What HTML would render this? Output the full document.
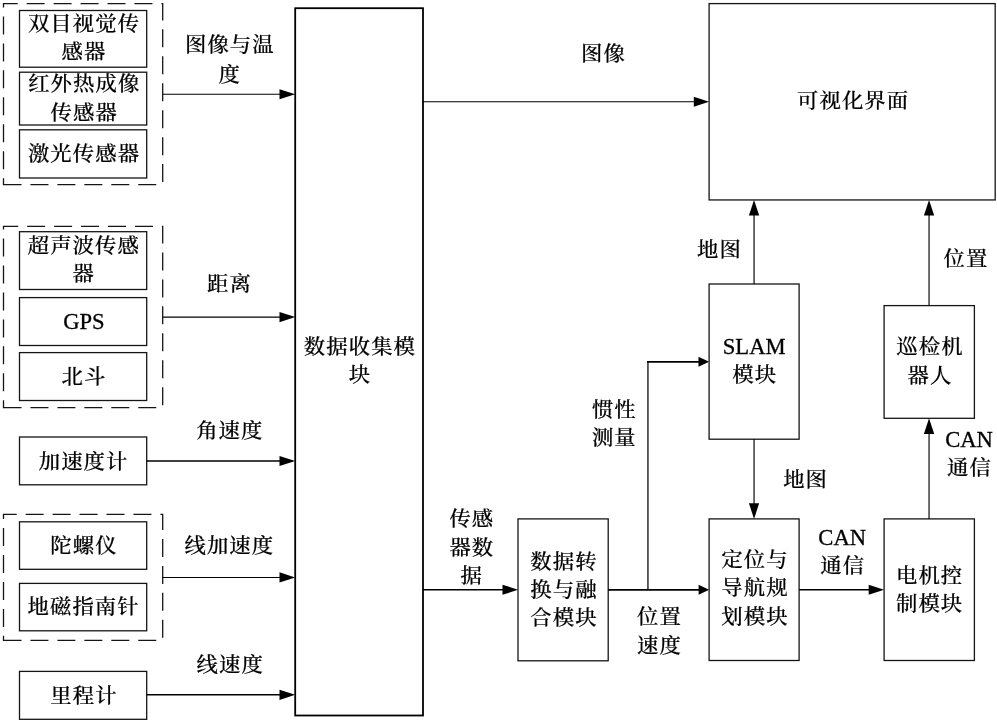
<!DOCTYPE html>
<html lang="zh-CN">
<head>
<meta charset="utf-8">
<title>系统框图</title>
<style>
html,body{margin:0;padding:0;background:#fff;}
body{width:997px;height:722px;overflow:hidden;}
svg{display:block;will-change:transform;}
.box{fill:#fff;stroke:#151515;stroke-width:1.3;}
.grp{fill:none;stroke:#151515;stroke-width:1.3;stroke-dasharray:18 8.95;}
.ln{fill:none;stroke:#000;}
.hd{fill:#000;stroke:none;}
text{font-family:"Liberation Serif", "Noto Serif CJK SC", serif;font-size:21.4px;font-weight:500;fill:#000;stroke:#000;stroke-width:0.2;text-anchor:middle;letter-spacing:1.05px;}
.en{font-size:22.6px;font-weight:400;letter-spacing:0;stroke-width:0.3;}
</style>
</head>
<body>
<svg width="997" height="722" viewBox="0 0 997 722">
<rect x="0" y="0" width="997" height="722" fill="#fff"/>
<g>
<path class="grp" d="M3.5,184.6H162.7V3.7H3.5Z"/>
<path class="grp" d="M3.5,407.7H162.7V226.3H3.5Z"/>
<path class="grp" d="M3.5,640.3H162.7V514.3H3.5Z"/>
</g>
<g>
<rect class="box" x="19.5" y="10.5" width="127.2" height="56.7"/>
<rect class="box" x="19.5" y="72.2" width="127.2" height="52.8"/>
<rect class="box" x="19.5" y="129.8" width="127.2" height="48.2"/>
<rect class="box" x="19.5" y="231.7" width="127.2" height="57.8"/>
<rect class="box" x="19.5" y="297.6" width="127.2" height="47.9"/>
<rect class="box" x="19.5" y="352.6" width="127.2" height="47.9"/>
<rect class="box" x="19.5" y="437" width="127.2" height="47.8"/>
<rect class="box" x="19.5" y="521.8" width="127.2" height="47.5"/>
<rect class="box" x="19.5" y="583.4" width="127.2" height="47.4"/>
<rect class="box" x="19.5" y="671.4" width="127.2" height="47.9"/>
<rect class="box" x="295.2" y="8.2" width="127.8" height="707.3" style="stroke-width:1.8;stroke:#000"/>
<rect class="box" x="709.1" y="3.6" width="286.1" height="196.35"/>
<rect class="box" x="709.1" y="284" width="90" height="155.2"/>
<rect class="box" x="709.1" y="518.9" width="90" height="141.6"/>
<rect class="box" x="518" y="518.9" width="90.2" height="141.9"/>
<rect class="box" x="884.1" y="518.9" width="90.3" height="141.6"/>
<rect class="box" x="884.1" y="305.6" width="90.3" height="112.7"/>
</g>
<g>
<polyline class="ln" stroke-width="1.25" points="647.95,589.85 647.95,361"/>
<polyline class="ln" stroke-width="1.15" points="162.8,94.25 280.5,94.25"/>
<polygon class="hd" points="295.2,94.25 279.5,99.35 279.5,89.15"/>
<polyline class="ln" stroke-width="1.25" points="162.8,317.1 280.5,317.1"/>
<polygon class="hd" points="295.2,317.1 279.5,322.2 279.5,312"/>
<polyline class="ln" stroke-width="1.5" points="146.7,461 280.5,461"/>
<polygon class="hd" points="295.2,461 279.5,466.1 279.5,455.9"/>
<polyline class="ln" stroke-width="1.15" points="162.8,577.45 280.5,577.45"/>
<polygon class="hd" points="295.2,577.45 279.5,582.55 279.5,572.35"/>
<polyline class="ln" stroke-width="1.5" points="146.7,694.8 280.5,694.8"/>
<polygon class="hd" points="295.2,694.8 279.5,699.9 279.5,689.7"/>
<polyline class="ln" stroke-width="1.15" points="423,101.75 694.8,101.75"/>
<polygon class="hd" points="709.1,101.75 693.8,106.85 693.8,96.65"/>
<polyline class="ln" stroke-width="1.4" points="423,589.75 503.5,589.75"/>
<polygon class="hd" points="518,589.75 502.5,594.85 502.5,584.65"/>
<polyline class="ln" stroke-width="1.8" points="608.2,589.85 699.6,589.85"/>
<polygon class="hd" points="709.1,589.85 698.6,594.85 698.6,584.85"/>
<polyline class="ln" stroke-width="1.8" points="647.05,361.85 699.5,361.85"/>
<polygon class="hd" points="709.1,361.85 698.5,366.85 698.5,356.85"/>
<polyline class="ln" stroke-width="1.15" points="754.05,284 754.05,214.55"/>
<polygon class="hd" points="754.05,199.95 759.2,215.55 748.9,215.55"/>
<polyline class="ln" stroke-width="1.15" points="754.05,439.2 754.05,504.3"/>
<polygon class="hd" points="754.05,518.9 748.95,503.3 759.15,503.3"/>
<polyline class="ln" stroke-width="1.4" points="799.1,589.75 869.7,589.75"/>
<polygon class="hd" points="884.1,589.75 868.7,594.85 868.7,584.65"/>
<polyline class="ln" stroke-width="1.15" points="929.05,518.9 929.05,432.9"/>
<polygon class="hd" points="929.05,418.3 934.2,433.9 923.9,433.9"/>
<polyline class="ln" stroke-width="1.15" points="929.05,305.6 929.05,214.55"/>
<polygon class="hd" points="929.05,199.95 934.2,215.55 923.9,215.55"/>
</g>
<g>
<text transform="translate(84.03 31.1) scale(1 0.953)">双目视觉传</text>
<text transform="translate(84.03 59.4) scale(1 0.953)">感器</text>
<text transform="translate(84.23 91.2) scale(1 0.953)">红外热成像</text>
<text transform="translate(84.23 119.5) scale(1 0.953)">传感器</text>
<text transform="translate(84.03 160.5) scale(1 0.953)">激光传感器</text>
<text transform="translate(83.83 252.6) scale(1 0.953)">超声波传感</text>
<text transform="translate(83.83 280.9) scale(1 0.953)">器</text>
<text class="en" x="83.9" y="328.9">GPS</text>
<text transform="translate(84.03 383.6) scale(1 0.953)">北斗</text>
<text transform="translate(83.62 468.8) scale(1 0.953)">加速度计</text>
<text transform="translate(84.03 552.9) scale(1 0.953)">陀螺仪</text>
<text transform="translate(83.62 614.4) scale(1 0.953)">地磁指南针</text>
<text transform="translate(84.03 703.2) scale(1 0.953)">里程计</text>
<text transform="translate(229.83 52.4) scale(1 0.953)">图像与温</text>
<text transform="translate(229.83 82.3) scale(1 0.953)">度</text>
<text transform="translate(229.53 291.1) scale(1 0.953)">距离</text>
<text transform="translate(229.83 437.6) scale(1 0.953)">角速度</text>
<text transform="translate(229.33 552.6) scale(1 0.953)">线加速度</text>
<text transform="translate(230.22 672.3) scale(1 0.953)">线速度</text>
<text transform="translate(359.92 354.1) scale(1 0.953)">数据收集模</text>
<text transform="translate(359.92 382.4) scale(1 0.953)">块</text>
<text transform="translate(471.82 526.4) scale(1 0.953)">传感</text>
<text transform="translate(471.82 554.7) scale(1 0.953)">器数</text>
<text transform="translate(471.82 583) scale(1 0.953)">据</text>
<text transform="translate(563.92 568.5) scale(1 0.953)">数据转</text>
<text transform="translate(563.92 596.8) scale(1 0.953)">换与融</text>
<text transform="translate(563.92 625.1) scale(1 0.953)">合模块</text>
<text transform="translate(659.52 623.5) scale(1 0.953)">位置</text>
<text transform="translate(659.52 653) scale(1 0.953)">速度</text>
<text transform="translate(614.32 416.7) scale(1 0.953)">惯性</text>
<text transform="translate(614.32 445) scale(1 0.953)">测量</text>
<text transform="translate(603.52 61.4) scale(1 0.953)">图像</text>
<text transform="translate(853.12 108.1) scale(1 0.953)">可视化界面</text>
<text transform="translate(719.52 257) scale(1 0.953)">地图</text>
<text class="en" x="754.2" y="354.3">SLAM</text>
<text transform="translate(754.73 382.2) scale(1 0.953)">模块</text>
<text transform="translate(805.62 486.7) scale(1 0.953)">地图</text>
<text transform="translate(755.02 567.3) scale(1 0.953)">定位与</text>
<text transform="translate(755.02 595.2) scale(1 0.953)">导航规</text>
<text transform="translate(755.02 623.5) scale(1 0.953)">划模块</text>
<text class="en" x="842.2" y="545.1">CAN</text>
<text transform="translate(842.73 573) scale(1 0.953)">通信</text>
<text transform="translate(929.62 582.5) scale(1 0.953)">电机控</text>
<text transform="translate(929.62 610.8) scale(1 0.953)">制模块</text>
<text class="en" x="969" y="447.3">CAN</text>
<text transform="translate(969.52 475.2) scale(1 0.953)">通信</text>
<text transform="translate(966.02 265.8) scale(1 0.953)">位置</text>
<text transform="translate(930.02 354.2) scale(1 0.953)">巡检机</text>
<text transform="translate(930.02 382.5) scale(1 0.953)">器人</text>
</g>
</svg>
</body>
</html>
